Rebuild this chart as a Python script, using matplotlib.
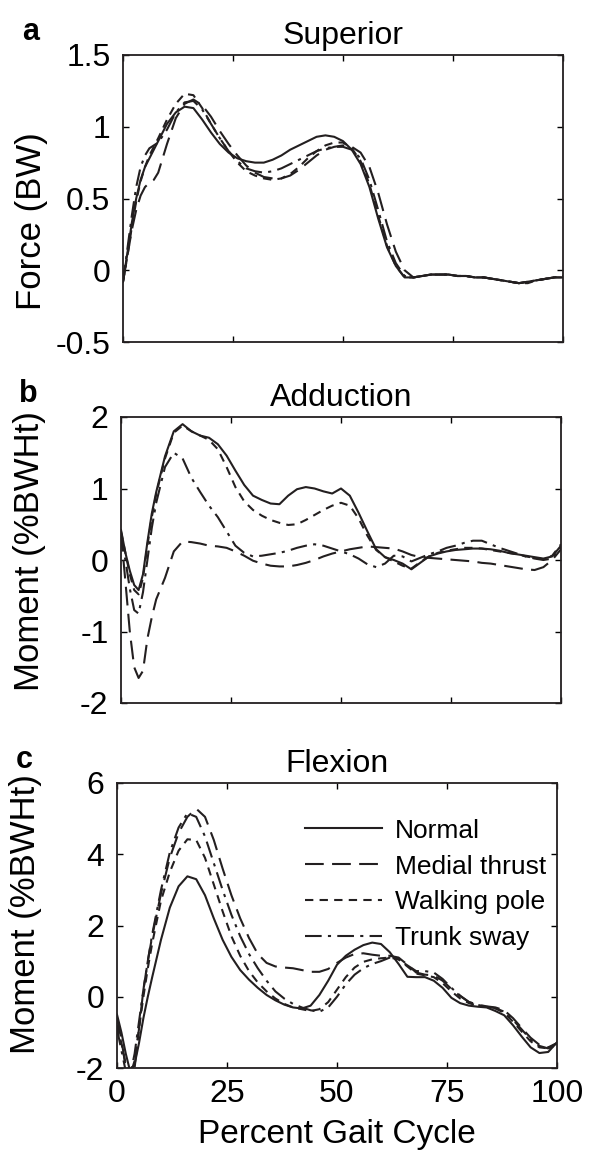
import matplotlib
matplotlib.use('Agg')
import matplotlib.pyplot as plt

plt.rcParams['font.family'] = ['Liberation Sans', 'DejaVu Sans']

# percent gait cycle (denser sampling at the start)
x = [0, 1, 2, 3, 4, 5, 6, 7, 8] + list(range(10, 101, 2))

# a) superior force (BW)
a_normal = [-0.08, 0.12, 0.33, 0.5, 0.63, 0.72, 0.78, 0.84, 0.9,
            1.02, 1.1, 1.14, 1.13, 1.05, 0.96, 0.88, 0.82, 0.78, 0.76,
            0.75, 0.75, 0.77, 0.8, 0.84, 0.87, 0.9, 0.93, 0.94, 0.93,
            0.9, 0.84, 0.74, 0.58, 0.36, 0.16, 0.03,
            -0.05, -0.05, -0.04, -0.03, -0.03, -0.03, -0.04, -0.04, -0.05, -0.05,
            -0.06, -0.07, -0.08, -0.09, -0.08, -0.07, -0.06, -0.05, -0.05]
a_medial = [-0.08, 0.1, 0.28, 0.42, 0.52, 0.58, 0.61, 0.63, 0.68,
            0.88, 1.06, 1.16, 1.19, 1.15, 1.07, 0.97, 0.88, 0.8, 0.73,
            0.68, 0.65, 0.64, 0.64, 0.66, 0.7, 0.75, 0.8, 0.84, 0.86,
            0.87, 0.86, 0.82, 0.72, 0.54, 0.32, 0.13,
            0.0, -0.05, -0.04, -0.03, -0.03, -0.03, -0.04, -0.04, -0.05, -0.05,
            -0.06, -0.07, -0.08, -0.09, -0.08, -0.07, -0.06, -0.05, -0.04]
a_pole = [-0.08, 0.1, 0.3, 0.48, 0.62, 0.72, 0.8, 0.86, 0.92,
          1.05, 1.16, 1.23, 1.22, 1.13, 1.02, 0.92, 0.83, 0.75, 0.69,
          0.66, 0.64, 0.63, 0.64, 0.67, 0.72, 0.78, 0.83, 0.87, 0.89,
          0.89, 0.85, 0.76, 0.6, 0.38, 0.17, 0.03,
          -0.05, -0.05, -0.04, -0.03, -0.03, -0.03, -0.04, -0.04, -0.05, -0.05,
          -0.06, -0.07, -0.08, -0.09, -0.09, -0.07, -0.06, -0.05, -0.05]
a_sway = [-0.08, 0.15, 0.38, 0.58, 0.72, 0.8, 0.85, 0.87, 0.89,
          0.98, 1.1, 1.17, 1.18, 1.12, 1.02, 0.92, 0.83, 0.76, 0.71,
          0.69, 0.68, 0.69, 0.71, 0.74, 0.77, 0.8, 0.83, 0.85, 0.86,
          0.86, 0.84, 0.78, 0.63, 0.42, 0.2, 0.05,
          -0.04, -0.05, -0.04, -0.03, -0.03, -0.03, -0.04, -0.04, -0.05, -0.05,
          -0.06, -0.07, -0.08, -0.09, -0.08, -0.07, -0.06, -0.05, -0.04]

# b) adduction moment (%BWHt)
b_normal = [0.42, 0.1, -0.15, -0.35, -0.42, -0.2, 0.25, 0.65, 0.95,
            1.45, 1.8, 1.9, 1.8, 1.74, 1.71, 1.62, 1.46, 1.25, 1.05,
            0.9, 0.84, 0.79, 0.78, 0.9, 0.99, 1.02, 1.0, 0.96, 0.93,
            1.0, 0.9, 0.66, 0.4, 0.15, 0.04, 0.0,
            -0.05, -0.13, -0.04, 0.05, 0.09, 0.12, 0.14, 0.15, 0.16, 0.16,
            0.15, 0.13, 0.1, 0.08, 0.06, 0.04, 0.02, 0.05, 0.2]
b_medial = [0.38, -0.3, -1.0, -1.5, -1.65, -1.55, -1.1, -0.8, -0.55,
            -0.25, 0.12, 0.26, 0.25, 0.23, 0.2, 0.19, 0.17, 0.12, 0.06,
            -0.01, -0.05, -0.08, -0.09, -0.09, -0.07, -0.04, 0.0, 0.05, 0.09,
            0.12, 0.15, 0.17, 0.19, 0.18, 0.17, 0.16,
            0.12, 0.07, 0.04, 0.03, 0.02, 0.01, 0.0, -0.01, -0.02, -0.04,
            -0.05, -0.07, -0.09, -0.11, -0.13, -0.14, -0.1, 0.0, 0.15]
b_pole = [0.4, 0.1, -0.2, -0.42, -0.48, -0.25, 0.2, 0.6, 0.92,
          1.42, 1.78, 1.88, 1.8, 1.74, 1.68, 1.55, 1.3, 1.02, 0.82,
          0.7, 0.62, 0.56, 0.52, 0.49, 0.5, 0.56, 0.63, 0.7, 0.76,
          0.8, 0.76, 0.58, 0.34, 0.14, 0.04, -0.02,
          -0.08, -0.12, -0.03, 0.05, 0.1, 0.13, 0.15, 0.17, 0.17, 0.16,
          0.14, 0.12, 0.1, 0.08, 0.05, 0.03, 0.01, 0.06, 0.22]
b_sway = [0.35, 0.0, -0.4, -0.7, -0.75, -0.45, 0.0, 0.45, 0.8,
          1.3, 1.5, 1.42, 1.15, 0.95, 0.76, 0.6, 0.4, 0.2, 0.1,
          0.05, 0.06, 0.08, 0.1, 0.13, 0.17, 0.2, 0.22, 0.2, 0.16,
          0.12, 0.08, 0.02, -0.06, -0.1, -0.05, 0.06,
          0.05, -0.02, 0.03, 0.08, 0.12, 0.17, 0.2, 0.24, 0.27, 0.27,
          0.22, 0.17, 0.13, 0.09, 0.05, 0.02, 0.0, 0.02, 0.18]

# c) flexion moment (%BWHt)
c_normal = [-0.5, -1.0, -1.6, -2.1, -1.9, -1.3, -0.6, 0.0, 0.55,
            1.6, 2.5, 3.1, 3.38, 3.3, 2.85, 2.2, 1.6, 1.12, 0.75,
            0.48, 0.25, 0.05, -0.1, -0.22, -0.3, -0.33, -0.25, 0.05, 0.45,
            0.9, 1.15, 1.32, 1.45, 1.52, 1.48, 1.25,
            0.92, 0.56, 0.55, 0.55, 0.45, 0.25, -0.03, -0.18, -0.25, -0.28,
            -0.3, -0.4, -0.52, -0.8, -1.12, -1.42, -1.58, -1.55, -1.28]
c_medial = [-0.6, -1.2, -2.0, -2.4, -2.0, -0.9, 0.2, 1.0, 1.7,
            2.9, 3.9, 4.6, 5.05, 5.28, 5.05, 4.4, 3.6, 2.85, 2.2,
            1.65, 1.2, 0.95, 0.85, 0.82, 0.8, 0.75, 0.7, 0.7, 0.78,
            0.95, 1.1, 1.2, 1.22, 1.18, 1.15, 1.15,
            1.1, 0.9, 0.68, 0.62, 0.6, 0.45, 0.22, 0.02, -0.15, -0.22,
            -0.27, -0.3, -0.38, -0.6, -0.88, -1.15, -1.35, -1.42, -1.3]
c_pole = [-0.8, -1.3, -1.9, -2.2, -1.8, -0.9, 0.0, 0.8, 1.5,
          2.7, 3.5, 4.1, 4.42, 4.4, 3.9, 3.15, 2.4, 1.7, 1.15,
          0.72, 0.4, 0.15, -0.05, -0.2, -0.3, -0.35, -0.4, -0.35, -0.15,
          0.2, 0.55, 0.82, 0.98, 1.05, 1.08, 1.1,
          1.05, 0.85, 0.65, 0.6, 0.55, 0.38, 0.15, -0.05, -0.18, -0.25,
          -0.28, -0.33, -0.45, -0.7, -0.98, -1.25, -1.42, -1.45, -1.3]
c_sway = [-0.9, -1.5, -2.1, -2.2, -1.6, -0.7, 0.2, 1.0, 1.75,
          3.0, 4.05, 4.75, 5.15, 5.05, 4.5, 3.75, 3.0, 2.3, 1.7,
          1.2, 0.8, 0.45, 0.15, -0.05, -0.2, -0.3, -0.38, -0.42, -0.3,
          0.0, 0.35, 0.62, 0.8, 0.92, 1.0, 1.1,
          1.05, 0.88, 0.72, 0.72, 0.68, 0.5, 0.25, 0.03, -0.15, -0.23,
          -0.28, -0.32, -0.42, -0.65, -0.92, -1.2, -1.38, -1.45, -1.35]

labels = ['Normal', 'Medial thrust', 'Walking pole', 'Trunk sway']
styles = ['-', (0, (9, 4)), (0, (4, 3)), (0, (8, 3, 1.5, 3))]

panels = [
    ('a', 'Superior', 'Force (BW)', [a_normal, a_medial, a_pole, a_sway],
     (-0.5, 1.5), [-0.5, 0, 0.5, 1, 1.5], ['-0.5', '0', '0.5', '1', '1.5'],
     [123 / 592, 1 - 342 / 1152, 440 / 592, 287 / 1152], 0.42),
    ('b', 'Adduction', 'Moment (%BWHt)', [b_normal, b_medial, b_pole, b_sway],
     (-2, 2), [-2, -1, 0, 1, 2], ['-2', '-1', '0', '1', '2'],
     [121 / 592, 1 - 703 / 1152, 440 / 592, 286 / 1152], 0.53),
    ('c', 'Flexion', 'Moment (%BWHt)', [c_normal, c_medial, c_pole, c_sway],
     (-2, 6), [-2, 0, 2, 4, 6], ['-2', '0', '2', '4', '6'],
     [117 / 592, 1 - 1068 / 1152, 440 / 592, 285 / 1152], 0.54),
]

fig = plt.figure(figsize=(5.92, 11.52), dpi=100)

for i, (letter, title, ylab, series, ylim, yt, ytl, pos, ly) in enumerate(panels):
    ax = fig.add_axes(pos)
    for s, ls, lab in zip(series, styles, labels):
        ax.plot(x, s, color='#231f20', linestyle=ls, linewidth=1.5, label=lab)
    ax.set_xlim(0, 100)
    ax.set_ylim(*ylim)
    ax.set_yticks(yt)
    ax.set_yticklabels(ytl)
    ax.set_xticks([0, 25, 50, 75, 100])
    ax.tick_params(direction='in', top=True, right=True, length=4, width=1,
                   labelsize=23)
    ax.tick_params(axis='y', pad=9)
    ax.tick_params(axis='x', pad=8)
    if i < 2:
        ax.set_xticklabels([])
    else:
        ax.set_xlabel('Percent Gait Cycle', fontsize=24, labelpad=7)
    for sp in ax.spines.values():
        sp.set_linewidth(1.3)
        sp.set_color('#231f20')
    ax.set_ylabel(ylab, fontsize=25)
    ax.yaxis.set_label_coords(-0.17, ly)
    ax.set_title(title, fontsize=23, pad=8)
    ax.text(-0.21, 1.08, letter, transform=ax.transAxes, fontsize=22,
            fontweight='bold', ha='center', va='center')
    if i == 2:
        # legend sits inside the top right of the flexion panel
        ax.legend(loc='upper right', bbox_to_anchor=(0.975, 0.875), frameon=False,
                  fontsize=19, handlelength=2.9, handletextpad=0.5,
                  labelspacing=0.45, borderaxespad=0, borderpad=0)

plt.savefig('out.png', dpi=100)
